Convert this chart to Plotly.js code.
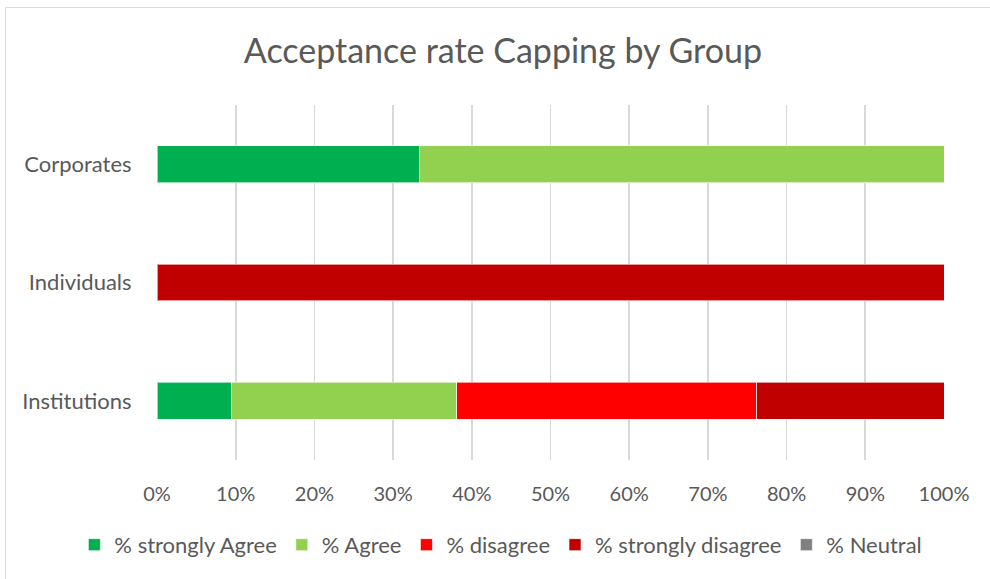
<!DOCTYPE html>
<html>
<head>
<meta charset="utf-8">
<script src="https://cdn.plot.ly/plotly-3.0.1.min.js"></script>
<style>
html,body{margin:0;padding:0;background:#fff;overflow:hidden;}
#chart{width:990px;height:579px;}
#frame{position:absolute;left:5px;top:7px;width:1000px;height:600px;border:1px solid #d9d9d9;pointer-events:none;}
</style>
</head>
<body>
<div id="chart"></div>
<div id="frame"></div>
<script>
const groups = ['Institutions', 'Individuals', 'Corporates'];
const seriesNames = ['% strongly Agree', '% Agree', '% disagree', '% strongly disagree', '% Neutral'];
const stronglyAgree = [0.0952, 0, 0.3333];
const agree = [0.2857, 0, 0.6667];
const disagree = [0.381, 0, 0];
const stronglyDisagree = [0.2381, 1, 0];
const neutral = [0, 0, 0];
const xTicks = [0, 0.1, 0.2, 0.3, 0.4, 0.5, 0.6, 0.7, 0.8, 0.9, 1];
const colors = ['#00b050', '#92d050', '#ff0000', '#c00000', '#808080'];

const values = [stronglyAgree, agree, disagree, stronglyDisagree, neutral];
const traces = values.map((v, i) => ({
  type: 'bar',
  orientation: 'h',
  name: seriesNames[i],
  y: groups,
  x: v,
  marker: {color: colors[i], line: {color: 'rgba(255,255,255,0.6)', width: 1}},
  hoverinfo: 'name+x'
}));

const font = 'Lato, "Open Sans", sans-serif';
const layout = {
  width: 990, height: 579,
  barmode: 'stack',
  bargap: 0.69,
  paper_bgcolor: '#fff',
  plot_bgcolor: '#fff',
  margin: {l: 157, r: 46, t: 105, b: 119, autoexpand: false},
  font: {family: font, color: '#595959', size: 20},
  title: {text: 'Acceptance rate Capping by Group', x: 0.508, xref: 'container', xanchor: 'center', y: 0.912, yref: 'container', yanchor: 'middle', font: {family: font, size: 34, color: '#595959'}},
  xaxis: {
    range: [0, 1], tickvals: xTicks, tickformat: '.0%',
    showgrid: true, gridcolor: '#d9d9d9', gridwidth: 1.6,
    zeroline: false, showline: false,
    ticks: 'outside', ticklen: 16, tickcolor: 'rgba(0,0,0,0)',
    tickfont: {size: 20, color: '#595959'}, fixedrange: true
  },
  yaxis: {
    categoryorder: 'array', categoryarray: groups,
    range: [-0.5, 2.5],
    showgrid: false, zeroline: false, showline: false,
    ticks: 'outside', ticklen: 20, tickcolor: 'rgba(0,0,0,0)',
    tickfont: {size: 22, color: '#595959'}, fixedrange: true
  },
  legend: {orientation: 'h', x: -0.105, xanchor: 'left', y: -0.239, yanchor: 'middle', font: {size: 22, color: '#595959'}, itemwidth: 30, traceorder: 'normal'},
  showlegend: true
};
Plotly.newPlot('chart', traces, layout, {displayModeBar: false, staticPlot: true});
</script>
</body>
</html>
